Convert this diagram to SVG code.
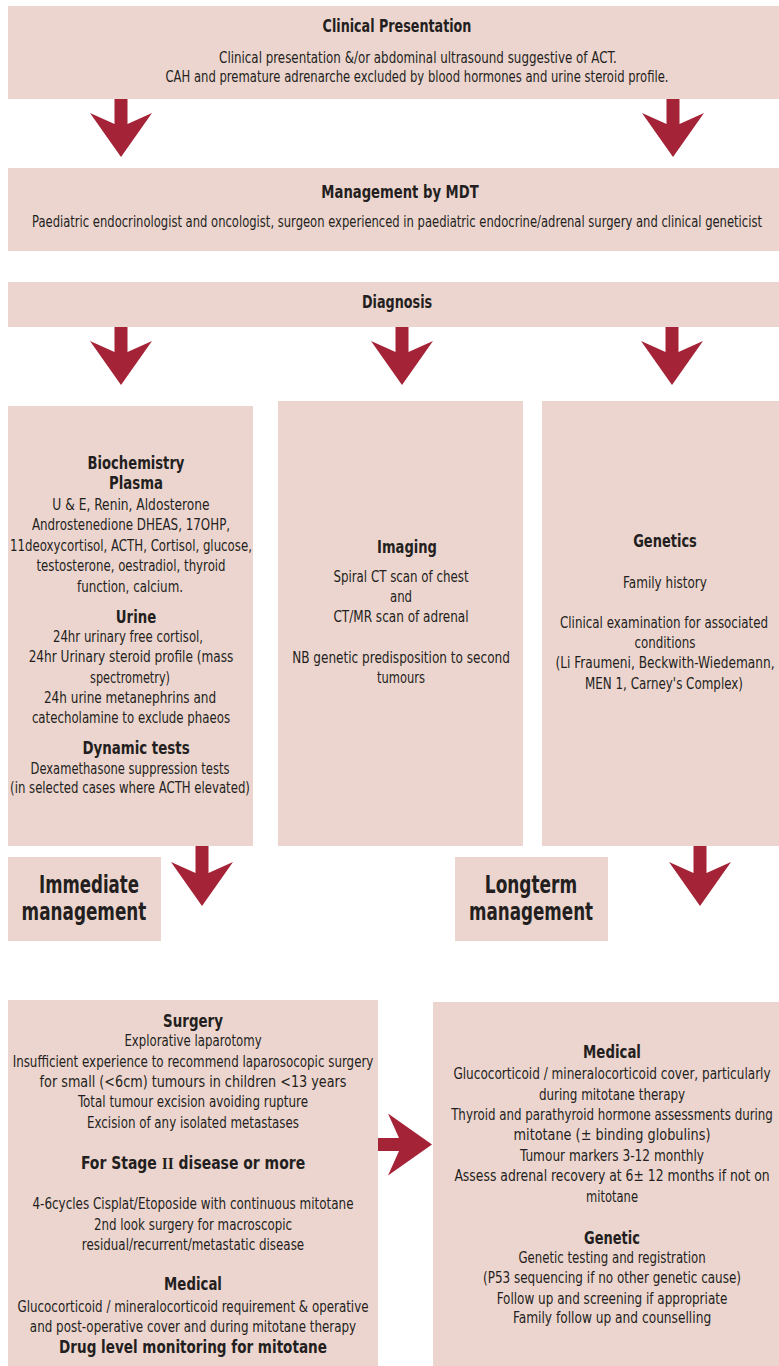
<svg xmlns="http://www.w3.org/2000/svg" width="779" height="1366" viewBox="0 0 779 1366">
<style>
.box{fill:#edd5cf}
.arr{fill:#a52336}
text{font-family:"DejaVu Sans Condensed","Liberation Sans",Arial,sans-serif;fill:#231f20;text-anchor:middle;font-size:16px}
.h{font-weight:bold;font-size:17px}
.big{font-weight:bold;font-size:25px}
.rom{font-family:"Liberation Serif","Times New Roman",serif}
</style>
<defs>
<path id="ad" d="M-6.5,0 H6.5 V30 L31,19 L0,63 L-31,19 L-6.5,30 Z"/>
</defs>
<rect width="779" height="1366" fill="#ffffff"/>

<g id="connectors">
<use href="#ad" class="arr" x="121" y="94"/>
<use href="#ad" class="arr" x="673" y="94"/>
<use href="#ad" class="arr" x="121" y="322"/>
<use href="#ad" class="arr" x="402" y="322"/>
<use href="#ad" class="arr" x="672" y="322"/>
<use href="#ad" class="arr" x="202" y="843"/>
<use href="#ad" class="arr" x="700" y="843"/>
<use href="#ad" class="arr" transform="translate(369,1144.5) rotate(-90)"/>
</g>

<g id="clinical-presentation">
<rect class="box" x="8" y="6" width="771" height="93"/>
<text class="h" transform="translate(397,32) scale(0.65,1)" textLength="229" lengthAdjust="spacingAndGlyphs">Clinical Presentation</text>
<text transform="translate(418,63) scale(0.65,1)" textLength="612" lengthAdjust="spacingAndGlyphs">Clinical presentation &amp;/or abdominal ultrasound  suggestive of ACT.</text>
<text transform="translate(417,82) scale(0.65,1)" textLength="774" lengthAdjust="spacingAndGlyphs">CAH and premature adrenarche excluded by blood hormones and urine steroid profile.</text>
</g>

<g id="management-mdt">
<rect class="box" x="8" y="168" width="771" height="83"/>
<text class="h" transform="translate(400,198) scale(0.65,1)" textLength="242" lengthAdjust="spacingAndGlyphs">Management by MDT</text>
<text transform="translate(397,227) scale(0.65,1)" textLength="1123" lengthAdjust="spacingAndGlyphs">Paediatric endocrinologist and oncologist, surgeon experienced in paediatric endocrine/adrenal surgery and clinical geneticist</text>
</g>

<g id="diagnosis">
<rect class="box" x="8" y="282" width="771" height="45"/>
<text class="h" transform="translate(397,308) scale(0.65,1)" textLength="108" lengthAdjust="spacingAndGlyphs">Diagnosis</text>
</g>

<g id="biochemistry">
<rect class="box" x="8" y="406" width="245" height="440"/>
<text class="h" transform="translate(136,469) scale(0.65,1)" textLength="149" lengthAdjust="spacingAndGlyphs">Biochemistry</text>
<text class="h" transform="translate(136,489) scale(0.65,1)" textLength="83" lengthAdjust="spacingAndGlyphs">Plasma</text>
<text transform="translate(131,510) scale(0.65,1)" textLength="242" lengthAdjust="spacingAndGlyphs">U &amp; E, Renin, Aldosterone</text>
<text transform="translate(131,530) scale(0.65,1)" textLength="305" lengthAdjust="spacingAndGlyphs">Androstenedione DHEAS, 17OHP,</text>
<text transform="translate(131,551) scale(0.65,1)" textLength="372" lengthAdjust="spacingAndGlyphs">11deoxycortisol, ACTH, Cortisol, glucose,</text>
<text transform="translate(131,571) scale(0.65,1)" textLength="291" lengthAdjust="spacingAndGlyphs">testosterone, oestradiol, thyroid</text>
<text transform="translate(130,592) scale(0.65,1)" textLength="163" lengthAdjust="spacingAndGlyphs">function, calcium.</text>
<text class="h" transform="translate(136,623) scale(0.65,1)" textLength="62" lengthAdjust="spacingAndGlyphs">Urine</text>
<text transform="translate(128,642) scale(0.65,1)" textLength="231" lengthAdjust="spacingAndGlyphs">24hr urinary free cortisol,</text>
<text transform="translate(131,662) scale(0.65,1)" textLength="315" lengthAdjust="spacingAndGlyphs">24hr Urinary steroid profile (mass</text>
<text transform="translate(130,683) scale(0.65,1)" textLength="123" lengthAdjust="spacingAndGlyphs">spectrometry)</text>
<text transform="translate(130,703) scale(0.65,1)" textLength="265" lengthAdjust="spacingAndGlyphs">24h urine metanephrins and</text>
<text transform="translate(131,723) scale(0.65,1)" textLength="305" lengthAdjust="spacingAndGlyphs">catecholamine to exclude phaeos</text>
<text class="h" transform="translate(136,754) scale(0.65,1)" textLength="165" lengthAdjust="spacingAndGlyphs">Dynamic tests</text>
<text transform="translate(130,774) scale(0.65,1)" textLength="306" lengthAdjust="spacingAndGlyphs">Dexamethasone suppression tests</text>
<text transform="translate(130,793) scale(0.65,1)" textLength="369" lengthAdjust="spacingAndGlyphs">(in selected cases where ACTH elevated)</text>
</g>

<g id="imaging">
<rect class="box" x="278" y="401" width="245" height="445"/>
<text class="h" transform="translate(407,553) scale(0.65,1)" textLength="92" lengthAdjust="spacingAndGlyphs">Imaging</text>
<text transform="translate(401,582) scale(0.65,1)" textLength="208" lengthAdjust="spacingAndGlyphs">Spiral CT scan of chest</text>
<text transform="translate(401,602) scale(0.65,1)" textLength="34" lengthAdjust="spacingAndGlyphs">and</text>
<text transform="translate(401,622) scale(0.65,1)" textLength="208" lengthAdjust="spacingAndGlyphs">CT/MR scan of adrenal</text>
<text transform="translate(401,663) scale(0.65,1)" textLength="335" lengthAdjust="spacingAndGlyphs">NB genetic predisposition  to second</text>
<text transform="translate(401,683) scale(0.65,1)" textLength="74" lengthAdjust="spacingAndGlyphs">tumours</text>
</g>

<g id="genetics">
<rect class="box" x="542" y="401" width="237" height="445"/>
<text class="h" transform="translate(665,547) scale(0.65,1)" textLength="98" lengthAdjust="spacingAndGlyphs">Genetics</text>
<text transform="translate(665,588) scale(0.65,1)" textLength="129" lengthAdjust="spacingAndGlyphs">Family history</text>
<text transform="translate(664,628) scale(0.65,1)" textLength="320" lengthAdjust="spacingAndGlyphs">Clinical examination for associated</text>
<text transform="translate(665,648) scale(0.65,1)" textLength="94" lengthAdjust="spacingAndGlyphs">conditions</text>
<text transform="translate(665,668) scale(0.65,1)" textLength="337" lengthAdjust="spacingAndGlyphs">(Li Fraumeni, Beckwith-Wiedemann,</text>
<text transform="translate(664,689) scale(0.65,1)" textLength="243" lengthAdjust="spacingAndGlyphs">MEN 1, Carney's Complex)</text>
</g>

<g id="immediate-management">
<rect class="box" x="8" y="857" width="153" height="84"/>
<text class="big" transform="translate(89,893) scale(0.65,1)" textLength="154" lengthAdjust="spacingAndGlyphs">Immediate</text>
<text class="big" transform="translate(84,920) scale(0.65,1)" textLength="192" lengthAdjust="spacingAndGlyphs">management</text>
</g>

<g id="longterm-management">
<rect class="box" x="455" y="857" width="153" height="84"/>
<text class="big" transform="translate(531,893) scale(0.65,1)" textLength="142" lengthAdjust="spacingAndGlyphs">Longterm</text>
<text class="big" transform="translate(531,920) scale(0.65,1)" textLength="191" lengthAdjust="spacingAndGlyphs">management</text>
</g>

<g id="immediate-details">
<rect class="box" x="8" y="1000" width="370" height="366"/>
<text class="h" transform="translate(193,1027) scale(0.65,1)" textLength="92" lengthAdjust="spacingAndGlyphs">Surgery</text>
<text transform="translate(193,1046) scale(0.65,1)" textLength="211" lengthAdjust="spacingAndGlyphs">Explorative laparotomy</text>
<text transform="translate(193,1067) scale(0.65,1)" textLength="555" lengthAdjust="spacingAndGlyphs">Insufficient experience to recommend  laparosocopic surgery</text>
<text transform="translate(193,1087) scale(0.65,1)" textLength="472" lengthAdjust="spacingAndGlyphs">for small (&lt;6cm) tumours in children &lt;13 years</text>
<text transform="translate(193,1107) scale(0.65,1)" textLength="354" lengthAdjust="spacingAndGlyphs">Total tumour excision avoiding rupture</text>
<text transform="translate(193,1128) scale(0.65,1)" textLength="326" lengthAdjust="spacingAndGlyphs">Excision of any isolated metastases</text>
<text class="h" transform="translate(193,1169) scale(0.65,1)" textLength="345" lengthAdjust="spacingAndGlyphs">For Stage <tspan class="rom">II</tspan> disease or more</text>
<text transform="translate(193,1209) scale(0.65,1)" textLength="494" lengthAdjust="spacingAndGlyphs">4-6cycles Cisplat/Etoposide with continuous mitotane</text>
<text transform="translate(193,1230) scale(0.65,1)" textLength="305" lengthAdjust="spacingAndGlyphs">2nd look surgery for macroscopic</text>
<text transform="translate(193,1250) scale(0.65,1)" textLength="342" lengthAdjust="spacingAndGlyphs">residual/recurrent/metastatic disease</text>
<text class="h" transform="translate(193,1290) scale(0.65,1)" textLength="89" lengthAdjust="spacingAndGlyphs">Medical</text>
<text transform="translate(193,1312) scale(0.65,1)" textLength="540" lengthAdjust="spacingAndGlyphs">Glucocorticoid / mineralocorticoid requirement &amp; operative</text>
<text transform="translate(193,1332) scale(0.65,1)" textLength="502" lengthAdjust="spacingAndGlyphs">and post-operative cover and during mitotane therapy</text>
<text class="h" transform="translate(193,1353) scale(0.65,1)" textLength="412" lengthAdjust="spacingAndGlyphs">Drug level monitoring for mitotane</text>
</g>

<g id="longterm-details">
<rect class="box" x="433" y="1002" width="346" height="364"/>
<text class="h" transform="translate(612,1058) scale(0.65,1)" textLength="89" lengthAdjust="spacingAndGlyphs">Medical</text>
<text transform="translate(612,1079) scale(0.65,1)" textLength="488" lengthAdjust="spacingAndGlyphs">Glucocorticoid / mineralocorticoid  cover, particularly</text>
<text transform="translate(612,1100) scale(0.65,1)" textLength="225" lengthAdjust="spacingAndGlyphs">during mitotane therapy</text>
<text transform="translate(612,1120) scale(0.65,1)" textLength="495" lengthAdjust="spacingAndGlyphs">Thyroid and parathyroid hormone assessments during</text>
<text transform="translate(612,1140) scale(0.65,1)" textLength="303" lengthAdjust="spacingAndGlyphs">mitotane (± binding globulins)</text>
<text transform="translate(612,1161) scale(0.65,1)" textLength="283" lengthAdjust="spacingAndGlyphs">Tumour markers 3-12 monthly</text>
<text transform="translate(612,1181) scale(0.65,1)" textLength="485" lengthAdjust="spacingAndGlyphs">Assess adrenal recovery at 6± 12 months if not on</text>
<text transform="translate(612,1202) scale(0.65,1)" textLength="80" lengthAdjust="spacingAndGlyphs">mitotane</text>
<text class="h" transform="translate(612,1244) scale(0.65,1)" textLength="86" lengthAdjust="spacingAndGlyphs">Genetic</text>
<text transform="translate(612,1263) scale(0.65,1)" textLength="288" lengthAdjust="spacingAndGlyphs">Genetic testing and registration</text>
<text transform="translate(612,1283) scale(0.65,1)" textLength="397" lengthAdjust="spacingAndGlyphs">(P53 sequencing if no other genetic cause)</text>
<text transform="translate(612,1304) scale(0.65,1)" textLength="355" lengthAdjust="spacingAndGlyphs">Follow up and screening if appropriate</text>
<text transform="translate(612,1323) scale(0.65,1)" textLength="305" lengthAdjust="spacingAndGlyphs">Family follow up and counselling</text>
</g>
</svg>
